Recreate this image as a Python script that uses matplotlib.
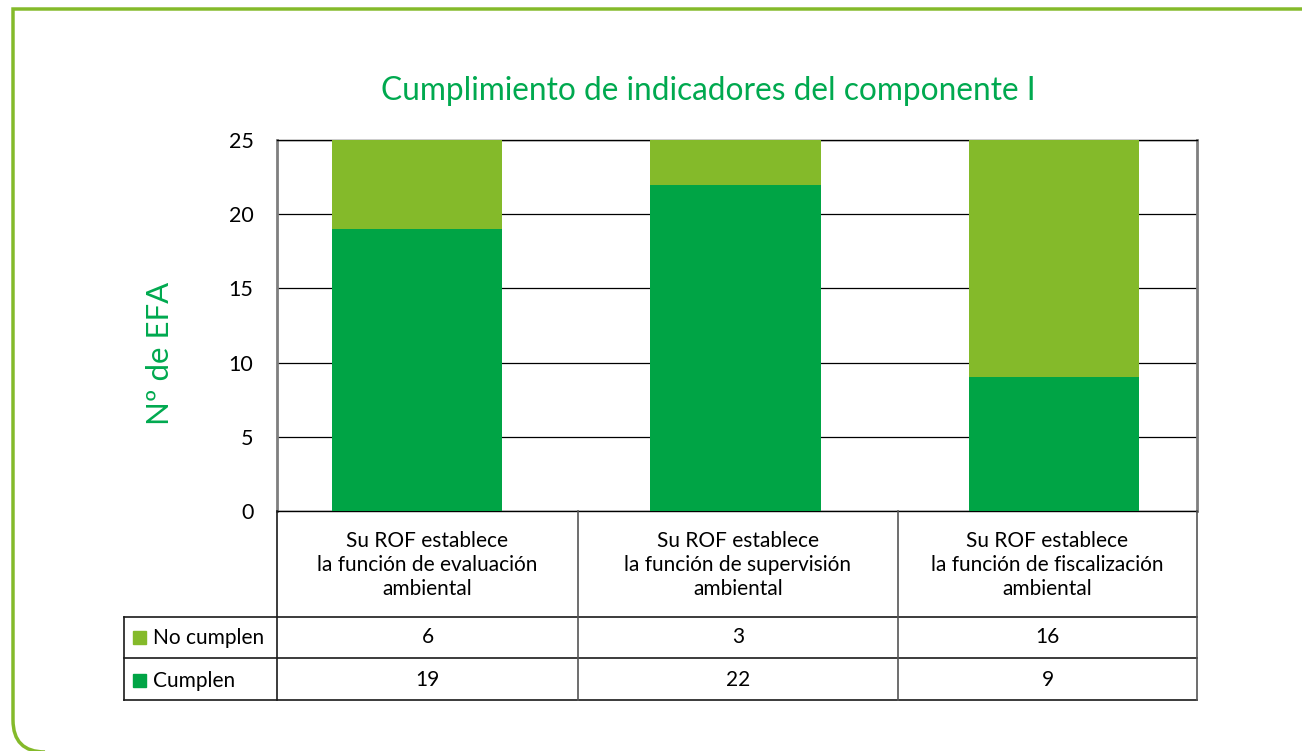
import matplotlib.pyplot as plt
from matplotlib.path import Path
from matplotlib.patches import PathPatch, Rectangle

categories = ['Su ROF establece\nla función de evaluación\nambiental',
              'Su ROF establece\nla función de supervisión\nambiental',
              'Su ROF establece\nla función de fiscalización\nambiental']
series_names = ['No cumplen', 'Cumplen']
cumplen = [19, 22, 9]
no_cumplen = [6, 3, 16]
yticks = [0, 5, 10, 15, 20, 25]

c_light = '#84BA2A'
c_dark = '#00A445'
c_title = '#00A94F'
plt.rcParams['font.family'] = ['Lato', 'DejaVu Sans']

W, H = 1302, 751
fig = plt.figure(figsize=(W / 100, H / 100), dpi=100)

def fx(px):
    return px / W

def fy(py):
    return 1 - py / H

# marco verde con esquina redondeada
verts = [(fx(1310), fy(9)), (fx(13), fy(9)), (fx(13), fy(720)),
         (fx(13), fy(752)), (fx(45), fy(752)), (fx(1310), fy(752))]
codes = [Path.MOVETO, Path.LINETO, Path.LINETO, Path.CURVE3, Path.CURVE3, Path.LINETO]
fig.patches.append(PathPatch(Path(verts, codes), transform=fig.transFigure,
                             fill=False, edgecolor=c_light, lw=2.5))

ax = fig.add_axes([fx(277), fy(511), fx(1197) - fx(277), fy(140) - fy(511)])
x = range(len(categories))
ax.bar(x, cumplen, width=0.535, color=c_dark, zorder=3)
ax.bar(x, no_cumplen, bottom=cumplen, width=0.535, color=c_light, zorder=3)
ax.set_xlim(-0.44, 2.45)
ax.set_ylim(0, 25)
ax.set_yticks(yticks)
ax.set_yticklabels([str(t) for t in yticks], fontsize=15.5)
ax.tick_params(axis='y', length=0, pad=17)
ax.set_xticks([])
ax.grid(axis='y', color='black', lw=0.9, zorder=1)
ax.spines['left'].set_color('#7f7f7f')
ax.spines['left'].set_linewidth(2)
ax.spines['right'].set_color('#7f7f7f')
ax.spines['right'].set_linewidth(2)
ax.spines['top'].set_linewidth(1)
ax.spines['bottom'].set_linewidth(1)

fig.text(fx(708), fy(91), 'Cumplimiento de indicadores del componente I',
         ha='center', va='center', color=c_title, fontsize=22.8)
fig.text(fx(160), fy(353), 'Nº de EFA', rotation=90, ha='center', va='center',
         color=c_title, fontsize=22.4)

# tabla de datos
col_edges = [277, 578, 898, 1197]
lc = '#1a1a1a'

def hline(y, x0, x1):
    fig.add_artist(plt.Line2D([fx(x0), fx(x1)], [fy(y), fy(y)], color=lc, lw=1.2))

def vline(xp, y0, y1, color=lc):
    fig.add_artist(plt.Line2D([fx(xp), fx(xp)], [fy(y0), fy(y1)], color=color, lw=1.2))

hline(617, 124, 1197)
hline(658, 124, 1197)
hline(700, 124, 1197)
vline(124, 617, 700)
vline(277, 511, 700)
vline(578, 511, 700, '#555555')
vline(898, 511, 700, '#555555')
vline(1197, 511, 700, '#555555')

for i, cat in enumerate(categories):
    cx = (col_edges[i] + col_edges[i + 1]) / 2
    fig.text(fx(cx), fy(565), cat, ha='center', va='center', fontsize=15,
             linespacing=1.28)
    fig.text(fx(cx), fy(637), str(no_cumplen[i]), ha='center', va='center', fontsize=15)
    fig.text(fx(cx), fy(680), str(cumplen[i]), ha='center', va='center', fontsize=15)

for name, color, yc in [(series_names[0], c_light, 638), (series_names[1], c_dark, 681)]:
    fig.add_artist(Rectangle((fx(133), fy(yc + 6)), fx(13), 13 / H,
                             transform=fig.transFigure, color=color))
    fig.text(fx(153), fy(yc), name, ha='left', va='center', fontsize=15)

fig.savefig('out.png', dpi=100)
